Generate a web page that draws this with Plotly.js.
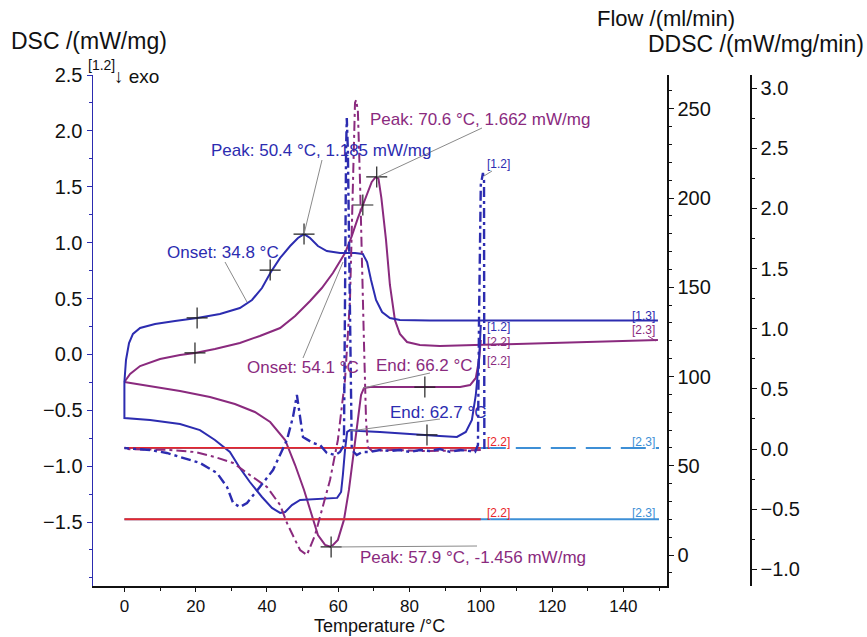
<!DOCTYPE html>
<html>
<head>
<meta charset="utf-8">
<script src="https://cdn.plot.ly/plotly-3.0.1.min.js"></script>
<style>html,body{margin:0;padding:0;background:#fff;}#chart{width:867px;height:637px;}</style>
</head>
<body>
<div id="chart"></div>
<script>
// ---------- DATA ----------
// Sample 1 (blue) heating DSC, segment 1.3
const blueHeatT   = [0,0.45,1.3,2.4,4.4,8.6,14.2,20.4,26.8,32.4,35.8,38.6,41.1,43.7,46.5,48.7,50.4,52.1,54.3,56.8,60.5,64.7,66.9,68.1,69.2,70.6,72.3,74.5,77.3,85.7,105.4,149.7];
const blueHeatDSC = [-0.247,-0.050,0.102,0.183,0.236,0.272,0.299,0.326,0.361,0.415,0.487,0.594,0.737,0.863,0.970,1.042,1.077,1.042,0.970,0.925,0.907,0.907,0.898,0.827,0.666,0.487,0.379,0.326,0.308,0.303,0.303,0.303];
// Sample 1 (blue) cooling DSC, segment 1.2
const blueCoolT   = [100.0,99.5,98.6,97.5,95.8,93.3,88.5,84.9,77.3,71.7,66.1,63.3,62.5,61.9,61.3,60.8,59.7,54.9,49.3,47.0,45.1,43.7,41.4,38.6,35.2,32.4,29.6,25.4,21.2,15.6,7.2,0,0];
const blueCoolDSC = [0.263,-0.050,-0.363,-0.587,-0.694,-0.739,-0.730,-0.721,-0.703,-0.694,-0.685,-0.677,-0.694,-0.855,-1.079,-1.231,-1.284,-1.293,-1.302,-1.348,-1.410,-1.419,-1.374,-1.276,-1.142,-1.016,-0.873,-0.766,-0.677,-0.623,-0.587,-0.569,-0.247];
// Sample 2 (purple) heating DSC, segment 2.3
const purpHeatT   = [0,1.6,4.4,10.0,15.6,19.8,25.4,32.4,38.0,43.7,47.9,52.1,55.4,58.5,61.9,63.8,65.5,66.9,68.3,69.4,70.3,70.8,71.3,72.1,73.4,74.5,75.9,77.3,79.3,82.9,88.5,99.8,122.2,149.7];
const purpHeatDSC = [-0.247,-0.175,-0.104,-0.041,-0.005,0.013,0.048,0.102,0.165,0.236,0.344,0.478,0.594,0.728,0.907,1.059,1.220,1.337,1.453,1.543,1.579,1.588,1.570,1.400,1.024,0.621,0.308,0.183,0.111,0.084,0.075,0.084,0.102,0.129];
// Sample 2 (purple) cooling DSC, segment 2.2
const purpCoolT   = [100.0,99.5,98.6,97.0,94.2,85.7,77.3,68.9,67.2,66.4,65.5,64.4,63.0,61.6,59.9,58.0,56.3,54.3,52.6,50.4,47.9,45.1,40.9,36.6,31.0,24.0,15.6,7.2,1.6,0];
const purpCoolDSC = [0.129,-0.050,-0.211,-0.274,-0.292,-0.292,-0.292,-0.292,-0.301,-0.363,-0.587,-0.855,-1.213,-1.481,-1.660,-1.723,-1.705,-1.616,-1.437,-1.213,-0.990,-0.766,-0.605,-0.515,-0.444,-0.381,-0.328,-0.283,-0.256,-0.247];
// Sample 1 (blue) DDSC, segment 1.2
const blueDdscT = [101.0,100.9,100.6,100.0,99.5,99.2,98.4,97.0,94.2,91.4,88.5,85.7,82.9,80.1,77.3,74.5,71.7,68.9,66.7,65.2,63.8,63.3,62.7,62.4,62.2,61.9,61.6,60.5,59.1,56.8,54.9,52.9,50.1,48.4,47.3,45.6,41.7,38.0,34.4,32.4,30.5,28.8,26.0,21.2,16.4,11.9,7.2,0];
const blueDdsc  = [0,2.236,2.294,2.195,1.072,0.033,-0.025,-0.017,-0.008,-0.025,0,-0.017,-0.008,-0.025,-0.008,-0.017,-0.008,-0.025,-0.025,-0.050,-0.008,1.239,2.485,2.751,2.485,1.239,0.033,-0.025,-0.050,-0.033,0.033,0.050,0.100,0.449,0.266,0.075,-0.175,-0.316,-0.449,-0.482,-0.449,-0.316,-0.200,-0.116,-0.075,-0.033,-0.008,0.008];
// Sample 2 (purple) DDSC, segment 2.2
const purpDdscT = [100.0,85.0,75.0,69.5,68.3,67.8,67.2,66.7,66.1,65.5,65.0,64.7,64.1,63.3,61.9,59.9,57.7,55.4,53.5,51.2,49.3,47.9,45.6,43.7,40.0,35.2,30.5,25.4,19.8,12.8,0];
const purpDdsc  = [-0.008,-0.017,-0.008,-0.017,0.017,0.241,0.906,1.571,2.236,2.818,2.901,2.876,2.070,1.239,0.574,0.075,-0.258,-0.507,-0.715,-0.881,-0.840,-0.757,-0.615,-0.466,-0.316,-0.216,-0.116,-0.067,-0.025,-0.008,0];
// Gas flows (ml/min)
const flowSeg2T = [0,100];
const flowSeg3T = [100,150];
const flowAllT  = [0,150];
const flowPurge = 60;
const flowProt  = 20;
// Evaluation markers (+) on DSC curves
const markT   = [20.4,40.9,50.4,19.8,66.9,70.8,58.0,84.3,84.9];
const markDSC = [0.326,0.755,1.077,0.013,1.337,1.588,-1.723,-0.292,-0.721];
// Tick values
const xTicks    = [0,20,40,60,80,100,120,140];
const dscTicks  = [-1.5,-1.0,-0.5,0.0,0.5,1.0,1.5,2.0,2.5];
const flowTicks = [0,50,100,150,200,250];
const ddscTicks = [-1.0,-0.5,0.0,0.5,1.0,1.5,2.0,2.5,3.0];

// ---------- STYLE / LAYOUT ----------
const BLUE='#2c2cb0', PURP='#8a2a7e', RED='#e8262c', LBLUE='#3d8fd6', GRAY='#8a8a8a';
const FONT='Liberation Sans, Arial, sans-serif';
const L=93, R=750, T0=75, B=586;   // pixel frame
const W=R-L, H=B-T0;
const px=(x,y)=>({x:(x-L)/W, y:(B-y)/H});

const traces=[];
const line=(x,y,color,yaxis,dash,width)=>({x,y,type:'scatter',mode:'lines',yaxis,line:{color,width:width||2,dash:dash||'solid'},hoverinfo:'skip',showlegend:false});
const fill=(arr,v)=>arr.map(()=>v);
// flows
traces.push(line(flowSeg3T, fill(flowSeg3T,flowPurge), LBLUE,'y2','25px,10px',2));
traces.push(line(flowSeg2T, fill(flowSeg2T,flowPurge), LBLUE,'y2','solid',2));
traces.push(line(flowSeg2T, fill(flowSeg2T,flowPurge), RED,'y2','solid',1.8));
traces.push(line(flowAllT, fill(flowAllT,flowProt), LBLUE,'y2','solid',2));
traces.push(line(flowSeg2T, fill(flowSeg2T,flowProt), RED,'y2','solid',2));
// DDSC
const DD='10px,4px,3px,4px';
traces.push(line(purpDdscT, purpDdsc, PURP,'y3',DD,2));
traces.push(line(blueDdscT, blueDdsc, BLUE,'y3',DD,2.4));
// DSC
traces.push(line(purpCoolT, purpCoolDSC, PURP,'y','solid',2));
traces.push(line(purpHeatT, purpHeatDSC, PURP,'y','solid',2));
traces.push(line(blueCoolT, blueCoolDSC, BLUE,'y','solid',2));
traces.push(line(blueHeatT, blueHeatDSC, BLUE,'y','solid',2));
traces.push({x:markT,y:markDSC,type:'scatter',mode:'markers',yaxis:'y',marker:{symbol:'cross-thin-open',size:15,color:'#222',line:{color:'#222',width:1.2}},hoverinfo:'skip',showlegend:false});

const shapes=[];
const seg=(x1,y1,x2,y2,color,w)=>{const a=px(x1,y1),b=px(x2,y2);shapes.push({type:'line',xref:'paper',yref:'paper',x0:a.x,y0:a.y,x1:b.x,y1:b.y,line:{color:color||GRAY,width:w||1}});};
seg(322,160,304,234);
seg(225,262,247,302);
seg(482,128,377,177);
seg(303,358,343,262);
seg(363,388,430,373);
seg(350,431,440,419);
seg(331,547,477,546);
seg(484,176,492,171);
seg(648,336,656,341,PURP,1);

const ann=[];
const txt=(s,x,y,color,size,anchor,vanchor)=>{const p=px(x,y);ann.push({text:s,xref:'paper',yref:'paper',x:p.x,y:p.y,xanchor:anchor||'left',yanchor:vanchor||'middle',borderpad:0,showarrow:false,font:{family:FONT,size:size||17,color:color||'#000'}});};
txt('DSC /(mW/mg)',10,41,'#111',23);
txt('Flow /(ml/min)',596,18,'#111',22);
txt('DDSC /(mW/mg/min)',865,44,'#111',23,'right');
txt('Temperature /°C',379,637,'#111',18,'center','bottom');
txt('[1.2]',87,65,'#111',14);
txt('↓ exo',113,76,'#111',19);
txt('Peak: 50.4 °C, 1.185 mW/mg',210,150,BLUE,17);
txt('Onset: 34.8 °C',166,252,BLUE,17);
txt('Peak: 70.6 °C, 1.662 mW/mg',369,119,PURP,17);
txt('Onset: 54.1 °C',246,367,PURP,17);
txt('End: 66.2 °C',375,365,PURP,17);
txt('End: 62.7 °C',389,412,BLUE,17);
txt('Peak: 57.9 °C, -1.456 mW/mg',359,557,PURP,17);
txt('[1.2]',486,164,BLUE,12);
txt('[1.3]',631,316,BLUE,12);
txt('[2.3]',631,330,PURP,12);
txt('[1.2]',486,327,BLUE,12);
txt('[2.2]',486,342,PURP,12);
txt('[2.2]',486,361,PURP,12);
txt('[2.2]',486,442,RED,12);
txt('[2.3]',631,442,LBLUE,12);
txt('[2.2]',486,513,RED,12);
txt('[2.3]',631,513,LBLUE,12);

const xr=[(93-124.4)/3.564,(667-124.4)/3.564];
const axisBase={showgrid:false,zeroline:false,showline:true,linewidth:1.5,ticks:'outside',ticklen:5,tickwidth:1,tickfont:{family:FONT,size:20,color:'#111'}};
const layout={
  width:867,height:637,margin:{l:L,r:867-R,t:T0,b:637-B},
  paper_bgcolor:'#fff',plot_bgcolor:'#fff',showlegend:false,
  xaxis:Object.assign({},axisBase,{domain:[0,(667-L)/W],range:xr,tickvals:xTicks,linecolor:'#111',tickcolor:'#111',ticklen:4,
    tickfont:{family:FONT,size:17,color:'#111'},
    minor:{dtick:10,tick0:0,ticks:'outside',ticklen:3,tickcolor:'#111'}}),
  yaxis:Object.assign({},axisBase,{range:[(354.4-586)/111.75,(354.4-75)/111.75],tickvals:dscTicks,tickformat:'.1f',linecolor:BLUE,tickcolor:BLUE,
    minor:{dtick:0.25,tick0:0,ticks:'outside',ticklen:3,tickcolor:BLUE}}),
  yaxis2:Object.assign({},axisBase,{overlaying:'y',side:'right',anchor:'x',range:[(555-586)/1.785,(555-75)/1.785],tickvals:flowTicks,linecolor:'#111',tickcolor:'#111',
    minor:{dtick:10,tick0:0,ticks:'outside',ticklen:3,tickcolor:'#111'}}),
  yaxis3:Object.assign({},axisBase,{overlaying:'y',side:'right',anchor:'free',position:1,range:[(449-586)/120.3,(449-75)/120.3],tickvals:ddscTicks,tickformat:'.1f',linecolor:'#111',tickcolor:'#111',
    minor:{dtick:0.25,tick0:0,ticks:'outside',ticklen:3,tickcolor:'#111'}}),
  shapes:shapes,annotations:ann
};
Plotly.newPlot('chart',traces,layout,{displayModeBar:false,staticPlot:true});
</script>
</body>
</html>
